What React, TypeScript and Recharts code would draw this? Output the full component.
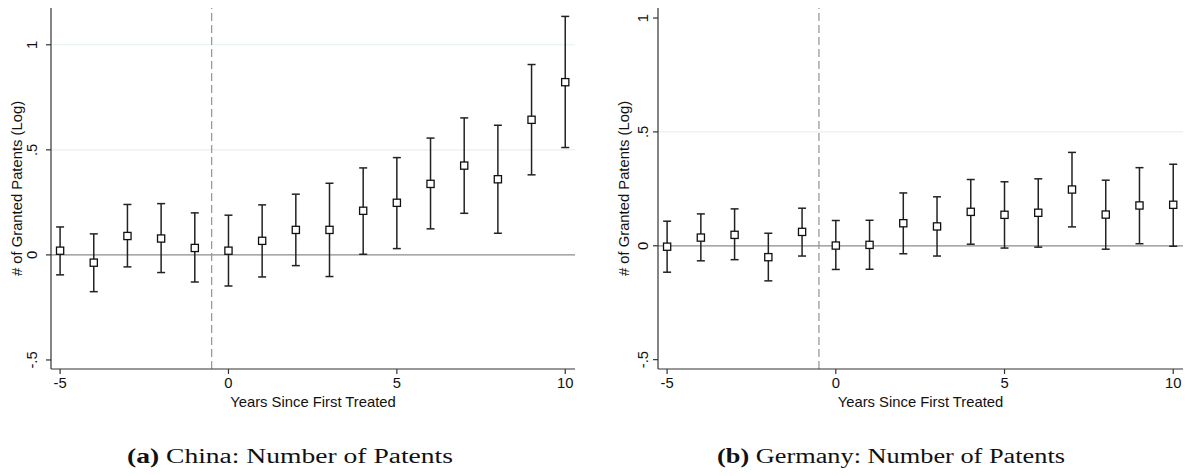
import React from "react";
import {
  ComposedChart,
  Scatter,
  ErrorBar,
  XAxis,
  YAxis,
  ReferenceLine,
} from "recharts";

// event time relative to first treatment
const years = [-5, -4, -3, -2, -1, 0, 1, 2, 3, 4, 5, 6, 7, 8, 9, 10];

// China: point estimates and 95% CI bounds
const chinaCoef = [0.02, -0.037, 0.09, 0.078, 0.033, 0.02, 0.067, 0.119, 0.119, 0.21, 0.248, 0.338, 0.425, 0.36, 0.643, 0.822];
const chinaLow = [-0.095, -0.175, -0.057, -0.084, -0.129, -0.148, -0.105, -0.051, -0.103, 0.003, 0.03, 0.124, 0.198, 0.103, 0.381, 0.511];
const chinaHigh = [0.133, 0.1, 0.24, 0.244, 0.2, 0.189, 0.238, 0.289, 0.341, 0.414, 0.463, 0.556, 0.652, 0.617, 0.906, 1.135];

// Germany: point estimates and 95% CI bounds
const germanyCoef = [-0.004, 0.036, 0.048, -0.05, 0.061, 0.001, 0.004, 0.099, 0.085, 0.149, 0.136, 0.145, 0.247, 0.137, 0.177, 0.18];
const germanyLow = [-0.116, -0.066, -0.061, -0.154, -0.045, -0.104, -0.103, -0.035, -0.045, 0.007, -0.01, -0.006, 0.083, -0.015, 0.009, -0.002];
const germanyHigh = [0.108, 0.14, 0.162, 0.055, 0.165, 0.111, 0.112, 0.232, 0.215, 0.291, 0.281, 0.294, 0.41, 0.288, 0.343, 0.358];

const xTicks = [-5, 0, 5, 10];
const yTicks = [-0.5, 0, 0.5, 1];

const SANS = "'Liberation Sans', Arial, Helvetica, sans-serif";
const SERIF = "'Liberation Serif', 'Times New Roman', serif";
const FS = 14.8;

const fmtY = (v: number) => {
  if (v === 0) return "0";
  if (v === 1) return "1";
  return v < 0 ? "-" + String(Math.abs(v)).replace(/^0/, "") : String(v).replace(/^0/, "");
};

const buildRows = (coef: number[], low: number[], high: number[]) =>
  years.map((x, i) => ({
    x,
    y: coef[i],
    err: [coef[i] - low[i], high[i] - coef[i]],
  }));

const SquareMarker = (props: any) => {
  const { cx, cy } = props;
  if (cx == null || cy == null) return null;
  return (
    <rect
      x={cx - 3.6}
      y={cy - 3.6}
      width={7.2}
      height={7.2}
      fill="#ffffff"
      stroke="#111"
      strokeWidth={1.3}
    />
  );
};

const makeYTick = (gap: number) => (props: any) => {
  const { x, y, payload } = props;
  const bx = x - gap;
  return (
    <text
      x={bx}
      y={y}
      transform={`rotate(-90 ${bx} ${y})`}
      textAnchor="middle"
      fontFamily={SANS}
      fontSize={FS}
      fill="#111"
    >
      {fmtY(payload.value)}
    </text>
  );
};

interface PanelProps {
  rows: { x: number; y: number; err: number[] }[];
  width: number;
  height: number;
  axisWidth: number;
  rightMargin: number;
  yDomain: [number, number];
  grid: number[];
  tickGap: number;
}

const Panel: React.FC<PanelProps> = ({
  rows,
  width,
  height,
  axisWidth,
  rightMargin,
  yDomain,
  grid,
  tickGap,
}) => {
  return (
    <ComposedChart
      width={width}
      height={height}
      margin={{ top: 8, right: rightMargin, left: 0, bottom: 11 }}
    >
      <XAxis
        dataKey="x"
        type="number"
        domain={[-5.27, 10.29]}
        ticks={xTicks}
        allowDataOverflow
        stroke="#333"
        strokeWidth={1.2}
        tickSize={5}
        tickMargin={3}
        height={40}
        tick={{ fill: "#111", fontSize: FS, fontFamily: SANS }}
        label={{
          content: (p: any) => {
            const vb = p.viewBox;
            return (
              <text
                x={vb.x + vb.width / 2}
                y={vb.y + 38}
                textAnchor="middle"
                fontFamily={SANS}
                fontSize={FS}
                fill="#111"
              >
                Years Since First Treated
              </text>
            );
          },
        }}
      />
      <YAxis
        type="number"
        domain={yDomain}
        ticks={yTicks}
        allowDataOverflow
        width={axisWidth}
        stroke="#333"
        strokeWidth={1.2}
        tickSize={5}
        tickMargin={0}
        tick={makeYTick(tickGap)}
        label={{
          content: (p: any) => {
            const vb = p.viewBox;
            const tx = vb.x + vb.width - 29;
            const ty = vb.y + vb.height / 2;
            return (
              <text
                x={tx}
                y={ty}
                transform={`rotate(-90 ${tx} ${ty})`}
                textAnchor="middle"
                fontFamily={SANS}
                fontSize={FS}
                fill="#111"
              >
                # of Granted Patents (Log)
              </text>
            );
          },
        }}
      />
      {grid.map((g) => (
        <ReferenceLine key={g} y={g} stroke="#e6eff1" strokeWidth={1.2} />
      ))}
      <ReferenceLine y={0} stroke="#8c8c8c" strokeWidth={1.3} />
      <ReferenceLine
        x={-0.5}
        stroke="#9a9a9a"
        strokeWidth={1.3}
        strokeDasharray="8 4"
      />
      <Scatter
        data={rows}
        dataKey="y"
        shape={SquareMarker}
        isAnimationActive={false}
      >
        <ErrorBar
          dataKey="err"
          direction="y"
          width={4}
          stroke="#222"
          strokeWidth={1.5}
        />
      </Scatter>
    </ComposedChart>
  );
};

const Caption: React.FC<{ x: number; w: number; tag: string; text: string }> = ({
  x,
  w,
  tag,
  text,
}) => (
  <svg
    width={w + 20}
    height={30}
    style={{ position: "absolute", left: x - 10, top: 440 }}
  >
    <text
      x={10}
      y={23}
      textLength={w}
      lengthAdjust="spacingAndGlyphs"
      fontFamily={SERIF}
      fontSize={20.5}
      fill="#111"
    >
      <tspan fontWeight="bold">{tag}</tspan>
      <tspan> {text}</tspan>
    </text>
  </svg>
);

export default function App() {
  const china = buildRows(chinaCoef, chinaLow, chinaHigh);
  const germany = buildRows(germanyCoef, germanyLow, germanyHigh);
  return (
    <div
      style={{
        position: "absolute",
        left: 0,
        top: 0,
        width: 1185,
        height: 476,
        background: "#ffffff",
        overflow: "hidden",
      }}
    >
      <div style={{ position: "absolute", left: 0, top: 0 }}>
        <Panel
          rows={china}
          width={590}
          height={420}
          axisWidth={51}
          rightMargin={15}
          yDomain={[-0.543, 1.175]}
          grid={[0.5, 1]}
          tickGap={9}
        />
      </div>
      <div style={{ position: "absolute", left: 590, top: 0 }}>
        <Panel
          rows={germany}
          width={595}
          height={420}
          axisWidth={68}
          rightMargin={2}
          yDomain={[-0.541, 1.044]}
          grid={[0.5]}
          tickGap={5}
        />
      </div>
      <Caption x={127} w={326} tag="(a)" text="China: Number of Patents" />
      <Caption x={717} w={348} tag="(b)" text="Germany: Number of Patents" />
    </div>
  );
}
